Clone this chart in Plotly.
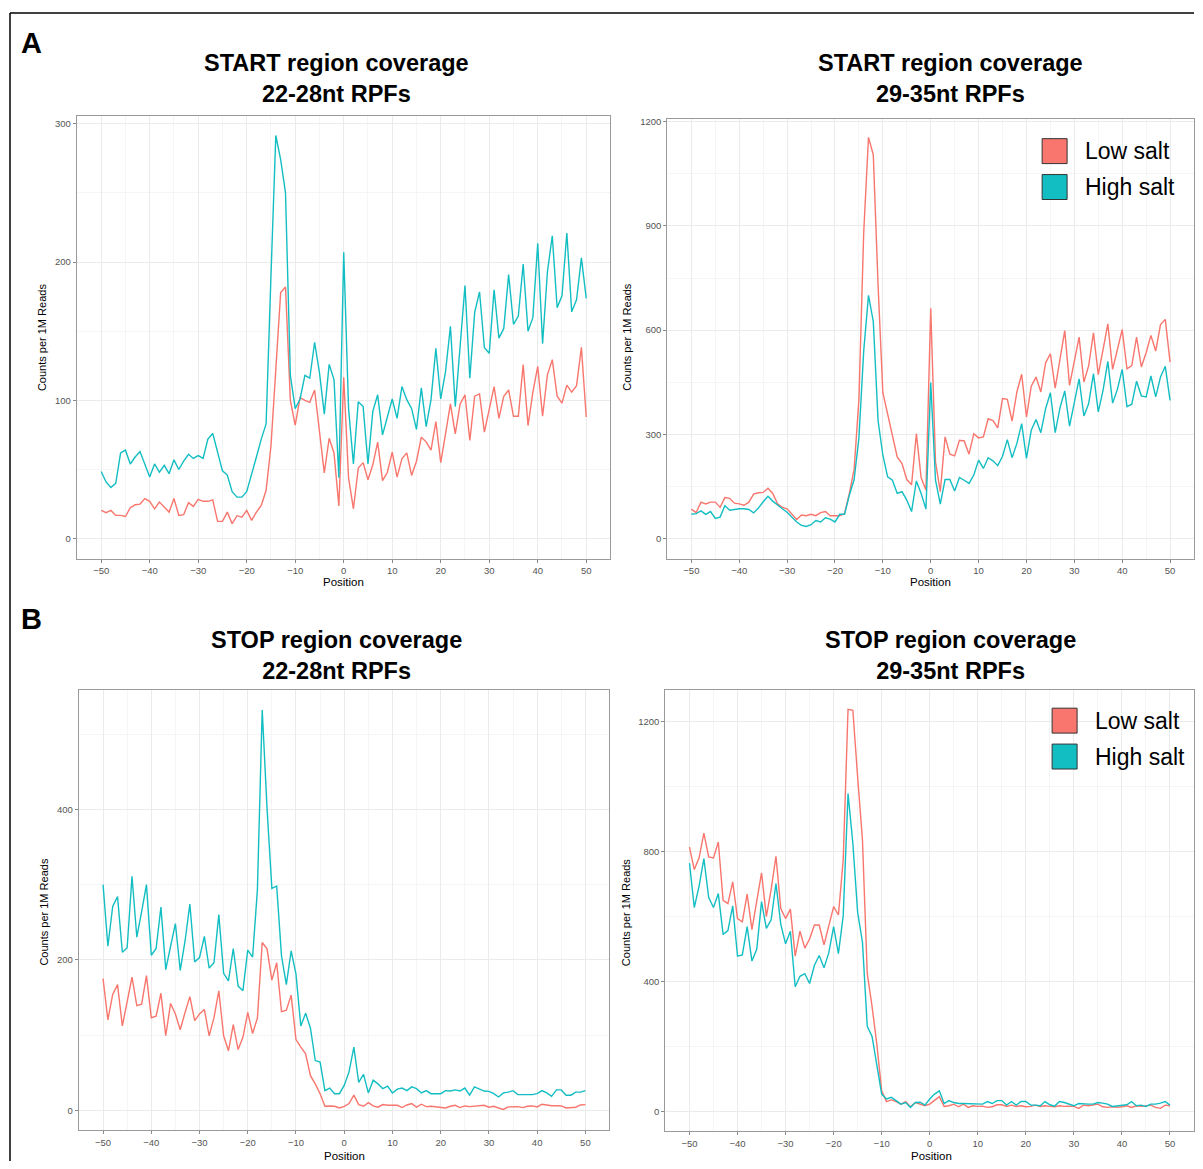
import plotly.graph_objects as go

# ---------------- data ----------------
positions = list(range(-50, 51))

start_2228_low = [
    20.4, 18.8, 20.4, 16.8, 16.8, 16, 22.4, 24.5, 25, 29,
    27, 21.6, 26.5, 22.6, 19.2, 29, 16.8, 17.3, 26, 23.3,
    28.4, 27, 27, 28, 12.5, 12.5, 19.2, 10.8, 16.6, 15.6,
    20.4, 13.2, 19.2, 24, 35, 67, 125, 178, 182, 100,
    82, 102, 100, 98.6, 107.5, 78, 47.6, 72.6, 62, 23.6,
    116.7, 44, 21.6, 51, 55, 42.6, 53.4, 69.8, 42, 48,
    62.5, 44.5, 57.7, 62, 45.7, 56, 73.4, 70, 64, 84.7,
    55, 76, 97.4, 75.8, 97.4, 104, 71, 103, 104.6, 77,
    93, 110, 87, 103, 107.5, 88.5, 88.5, 125.8, 81.8, 106,
    124.6, 88.5, 118.6, 129.4, 103, 98, 111, 106, 110.6, 138.3,
    88]
start_2228_high = [
    48.6, 41, 37, 40, 62, 64, 54, 59, 63, 54,
    44.5, 54, 48, 53, 47, 57, 50, 56, 61, 58,
    60, 58, 72, 76, 63, 49, 46, 34, 30, 30,
    34, 46, 59, 72, 83, 190, 291.5, 274, 250, 118,
    94, 101, 118, 116, 142, 120, 90, 126, 115, 44,
    207, 94, 54, 99, 95.5, 54, 92, 104, 75, 88,
    101, 87, 110, 100.5, 94, 79, 109, 81, 100.5, 137.6,
    101, 121, 153.5, 95.5, 139.5, 183, 116, 163.6, 178.5, 138,
    134, 180, 145, 152, 191, 155, 161, 198.5, 150, 160,
    213.6, 141, 193, 219, 167, 175.6, 221, 164, 172.7, 203,
    173.7]

start_2935_low = [
    85, 75, 105, 100, 105, 105, 90, 118, 116, 102,
    100, 96, 105, 128, 132, 133, 145, 130, 100, 90,
    86, 70, 55, 68, 66, 70, 66, 75, 78, 66,
    66, 66, 72, 130, 200, 400, 880, 1155, 1105, 730,
    420, 360, 300, 235, 216, 170, 155, 302, 175, 140,
    663, 221, 135, 293, 243, 238, 283, 281, 243, 302,
    290, 293, 345, 340, 319, 403, 401, 338, 422, 473,
    350, 439, 465, 422, 506, 532, 433, 518, 599, 441,
    513, 580, 451, 498, 592, 472, 544, 618, 487, 544,
    602, 489, 498, 580, 494, 535, 585, 540, 616, 631,
    508]
start_2935_high = [
    70, 72, 80, 70, 78, 58, 62, 95, 82, 85,
    86, 86, 84, 74, 88, 106, 122, 108, 96, 86,
    76, 62, 48, 38, 35, 40, 52, 48, 60, 56,
    48, 70, 70, 125, 170, 290, 540, 700, 625, 340,
    240, 178, 168, 130, 135, 111, 78, 166, 130, 85,
    449, 168, 99, 170, 170, 137, 176, 168, 159, 183,
    226, 202, 233, 224, 210, 237, 285, 233, 274, 331,
    231, 312, 343, 305, 374, 420, 305, 376, 425, 324,
    393, 460, 353, 389, 475, 365, 427, 510, 390, 430,
    487, 380, 387, 453, 411, 408, 468, 408, 465, 496,
    398]

stop_2228_low = [
    175, 120, 154, 167, 112, 147, 177, 139, 141, 179,
    123, 125, 155.5, 99, 142, 128, 107, 130, 151, 119,
    128, 134, 99, 123, 158.6, 99, 79, 113.7, 80.6, 97,
    130, 102, 122.5, 223, 214.5, 173, 196, 131, 133, 153,
    94, 84, 75, 46, 35, 22, 5.3, 5.7, 5.3, 3,
    5, 8.8, 20, 7.5, 5.3, 10, 5.7, 4, 7.5, 6.6,
    6.6, 6.6, 3.5, 7, 8.8, 4, 8, 4.8, 5.3, 4.8,
    4, 3, 5.3, 6.6, 3.5, 5.7, 4.8, 5.3, 5.7, 6.6,
    4, 5.3, 3, 1, 4.4, 4.4, 4.8, 3.5, 5.3, 5.7,
    4.4, 8, 6.6, 6, 6, 5.7, 3, 3, 4, 7,
    7.5]
stop_2228_high = [
    300, 218, 271, 284, 210, 216, 311, 230, 264, 300,
    206, 215, 270, 187, 218, 248, 186, 225, 274, 197,
    203, 231, 189, 196, 260, 182, 172, 215, 165, 159,
    213, 203.5, 293, 532, 401, 295, 298, 205, 167, 212,
    181, 112, 129, 109, 66, 64, 26, 29.5, 22, 22,
    33, 51, 84, 37, 47.6, 23, 40, 35, 28.6, 32,
    23, 28, 29.5, 26, 31, 28.6, 23, 26, 22, 22,
    22, 26, 25.5, 27, 25.5, 29.5, 20, 31, 28.6, 25.5,
    25, 22, 17.6, 23, 24, 26, 20.7, 20.7, 21, 20.7,
    22, 26, 23, 18.5, 27, 27, 20, 20, 24, 24,
    26]

stop_2935_low = [
    814, 745, 781, 857, 784, 781, 830, 650, 640, 707,
    594, 584, 669, 560, 648, 735, 600, 684, 786, 625,
    594, 623, 478, 555, 503, 531, 574, 574, 513, 577,
    631, 605, 776, 1239, 1236, 1030, 837, 424, 323, 206,
    63, 30, 35, 30, 22, 30, 14, 27, 22, 17,
    22, 33, 45, 15, 17, 22, 14, 22, 12, 17,
    15, 16, 12, 14, 20, 20, 15, 19, 15, 17,
    14, 15, 19, 15, 17, 15, 14, 17, 15, 16,
    15, 9, 19, 17, 19, 22, 14, 12, 14, 12,
    14, 17, 12, 17, 15, 16, 19, 12, 9, 19,
    17]
stop_2935_high = [
    765, 628, 694, 779, 659, 628, 671, 545, 557, 633,
    478, 482, 569, 463, 499, 646, 564, 590, 702, 577,
    516, 555, 384, 416, 424, 394, 450, 480, 442, 489,
    569, 486, 603, 979, 826, 613, 521, 262, 231, 145,
    53, 38, 43, 33, 22, 27, 12, 27, 28, 19,
    38, 53, 63, 24, 33, 27, 24, 24, 24, 22,
    22, 22, 30, 24, 33, 33, 19, 30, 19, 30,
    30, 19, 19, 17, 30, 20, 16, 30, 27, 22,
    17, 24, 22, 22, 22, 27, 25, 22, 15, 17,
    20, 20, 30, 17, 19, 15, 22, 22, 25, 30,
    19]

series_names = ["Low salt", "High salt"]
series_colors = ["#F8766D", "#13BEC3"]
x_ticks = [-50, -40, -30, -20, -10, 0, 10, 20, 30, 40, 50]

panel_titles = [
    "START region coverage<br>22-28nt RPFs",
    "START region coverage<br>29-35nt RPFs",
    "STOP region coverage<br>22-28nt RPFs",
    "STOP region coverage<br>29-35nt RPFs",
]
panel_data = [
    (start_2228_low, start_2228_high),
    (start_2935_low, start_2935_high),
    (stop_2228_low, stop_2228_high),
    (stop_2935_low, stop_2935_high),
]
y_ticks = [[0, 100, 200, 300], [0, 300, 600, 900, 1200], [0, 200, 400], [0, 400, 800, 1200]]
y_minor = [50, 150, 100, 200]
y_ranges = [[-14.4, 305.8], [-57.4, 1208.6], [-26.4, 558.4], [-61, 1297.7]]
x_title = "Position"
y_title = "Counts per 1M Reads"
panel_letters = ["A", "B"]

# ---------------- layout geometry (pixels of the 1203x1169 page) ----------------
OFF = 8                      # default body margin of the html page
W, H = 1203 - 2 * OFF, 1169 - 2 * OFF


def px(x):
    return min(1.0, max(0.0, (x - OFF) / W))


def py(y):
    return min(1.0, max(0.0, 1 - (y - OFF) / H))


# frames: (left, right, top, bottom)
frames = [(77, 611, 113, 557), (668, 1195, 116, 557), (79, 610, 689, 1130), (666, 1195, 689, 1131)]
title_pos = [(337, 76), (951, 76), (337, 654), (951, 654)]
ytitle_pos = [(42, 335), (628, 335), (44, 911), (626, 912)]
xtitle_pos = [(344, 580), (931, 580), (345, 1155.5), (932, 1155.5)]

FONT = "Liberation Sans, Arial, Helvetica, sans-serif"

fig = go.Figure()
layout = dict(
    width=W, height=H,
    margin=dict(l=0, r=0, t=0, b=0),
    paper_bgcolor="white", plot_bgcolor="white",
    showlegend=False,
    font=dict(family=FONT),
)

annotations = []
shapes = []

for i in range(4):
    xa = "xaxis" if i == 0 else f"xaxis{i+1}"
    ya = "yaxis" if i == 0 else f"yaxis{i+1}"
    xr = "x" if i == 0 else f"x{i+1}"
    yr = "y" if i == 0 else f"y{i+1}"
    l, r, t, b = frames[i]
    layout[xa] = dict(
        domain=[px(l), px(r)], anchor=yr, range=[-55, 55],
        tickvals=x_ticks, ticks="outside", ticklen=3, tickcolor="#888",
        tickfont=dict(size=9.5, color="#555"),
        showline=True, mirror=True, linecolor="#9a9a9a", linewidth=1.3,
        showgrid=True, gridcolor="#EBEBEB", gridwidth=1, zeroline=False,
        minor=dict(dtick=5, tick0=0, showgrid=True, gridcolor="#F5F5F5", gridwidth=0.8),
    )
    layout[ya] = dict(
        domain=[py(b), py(t)], anchor=xr, range=y_ranges[i],
        tickvals=y_ticks[i], ticks="outside", ticklen=3, tickcolor="#888",
        tickfont=dict(size=9.5, color="#555"),
        showline=True, mirror=True, linecolor="#9a9a9a", linewidth=1.3,
        showgrid=True, gridcolor="#EBEBEB", gridwidth=1, zeroline=False,
        minor=dict(dtick=y_minor[i], tick0=0, showgrid=True, gridcolor="#F5F5F5", gridwidth=0.8),
    )
    for s in range(2):
        fig.add_trace(go.Scatter(
            x=positions, y=panel_data[i][s], mode="lines", name=series_names[s],
            line=dict(color=series_colors[s], width=1.4),
            xaxis=xr, yaxis=yr,
        ))
    tx, ty = title_pos[i]
    annotations.append(dict(
        text="<b>" + panel_titles[i].replace("<br>", "</b><br><b>") + "</b>",
        x=px(tx), y=py(ty), xref="paper", yref="paper", showarrow=False,
        xanchor="center", yanchor="middle", align="center",
        font=dict(size=23.5, color="black", family=FONT),
    ))
    yx, yy = ytitle_pos[i]
    annotations.append(dict(
        text=y_title, x=px(yx), y=py(yy), xref="paper", yref="paper",
        showarrow=False, textangle=-90, xanchor="center", yanchor="middle",
        font=dict(size=11, color="black", family=FONT),
    ))
    xx, xy = xtitle_pos[i]
    annotations.append(dict(
        text=x_title, x=px(xx), y=py(xy), xref="paper", yref="paper",
        showarrow=False, xanchor="center", yanchor="middle",
        font=dict(size=11.5, color="black", family=FONT),
    ))

# panel letters
for letter, (lx, ly) in zip(panel_letters, [(32, 40), (32, 618)]):
    annotations.append(dict(
        text="<b>" + letter + "</b>", x=px(lx), y=py(ly), xref="paper", yref="paper",
        showarrow=False, xanchor="center", yanchor="middle",
        font=dict(size=29, color="black", family=FONT),
    ))

# legends (top-right panels)
for (kx, ky) in [(1043, 136), (1053, 707)]:
    for s in range(2):
        y0 = ky + s * 36
        shapes.append(dict(
            type="rect", xref="paper", yref="paper",
            x0=px(kx), x1=px(kx + 25), y0=py(y0 + 25), y1=py(y0),
            fillcolor=series_colors[s], line=dict(color="#333", width=1),
        ))
        annotations.append(dict(
            text=series_names[s], x=px(kx + 41), y=py(y0 + 12.5),
            xref="paper", yref="paper", showarrow=False,
            xanchor="left", yanchor="middle",
            font=dict(size=23, color="black", family=FONT),
        ))

# outer figure border (only top and left edges fall inside the picture)
shapes.append(dict(
    type="line", xref="paper", yref="paper",
    x0=px(10), x1=1, y0=py(10), y1=py(10),
    line=dict(color="black", width=1.5),
))
shapes.append(dict(
    type="line", xref="paper", yref="paper",
    x0=px(10), x1=px(10), y0=0, y1=py(10),
    line=dict(color="black", width=1.5),
))

layout["annotations"] = annotations
layout["shapes"] = shapes
fig.update_layout(**layout)

fig.write_html("out.html")
